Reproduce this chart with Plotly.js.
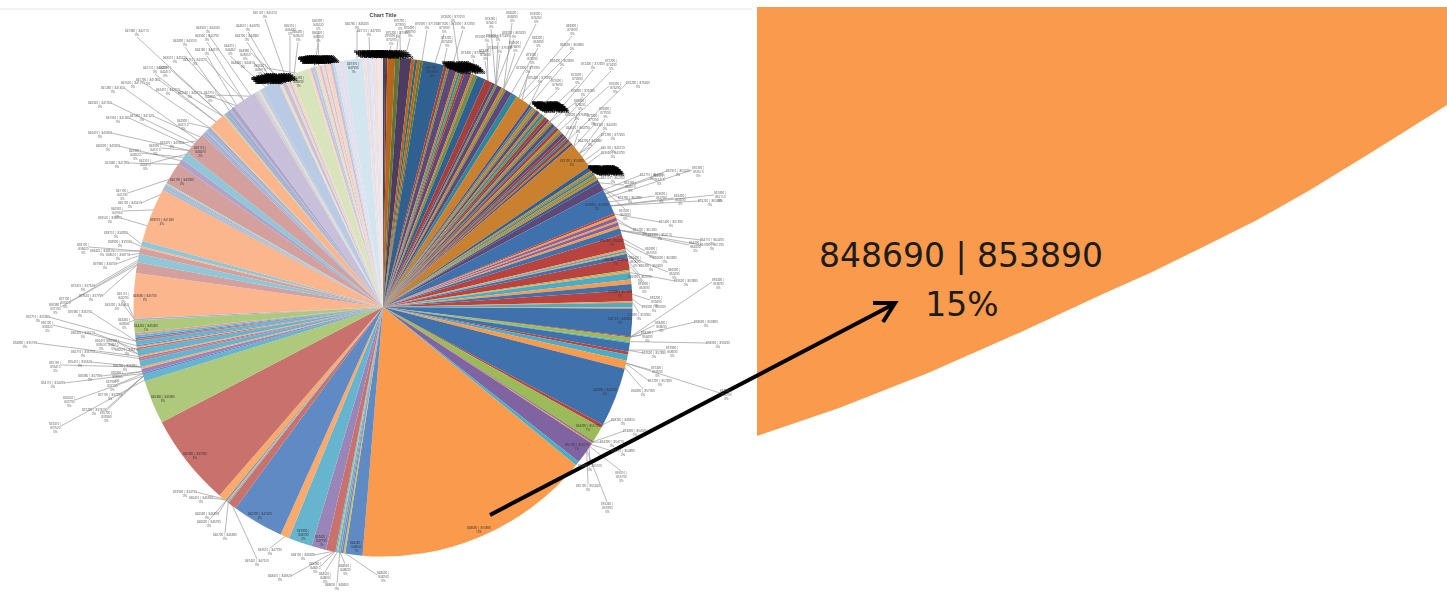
<!DOCTYPE html>
<html>
<head>
<meta charset="utf-8">
<script src="https://cdn.plot.ly/plotly-3.0.1.min.js"></script>
<style>html,body{margin:0;padding:0;background:#fff}#chart{width:1447px;height:592px}</style>
</head>
<body>
<div id="chart"></div>
<script>
// Slice sizes, clockwise from twelve o'clock (parts per 3600 of the pie).
const sliceWeights = [
  5,5,18,11,26,8,6,7,6,50,
  7,5,18,5,5,5,5,15,5,10,20,18,7,5,12,6,5,15,14,34,
  6,5,6,5,8,5,6,5,7,6,5,5,8,5,7,5,6,8,6,5,7,4,6,
  63,10,4,4,5,4,5,4,7,20,59,
  5,5,8,4,8,6,15,34,4,5,3,10,27,4,3,16,10,14,26,3,11,3,64,2,10,3,20,7,14,19,138,8,36,2,2,2,52,10,553,
  40,4,4,4,5,3,3,22,34,55,21,120,20,3,3,3,18,215,102,
  16,4,9,5,14,5,4,3,15,4,3,3,10,4,4,5,5,29,4,
  105,25,20,14,4,12,127,4,3,3,3,3,2,51,14,19,54,5,5,4,5,5,3,39,3,8,7,4,9,
  56,4,6,5,6,40,4,3,10,5,5,6,42,5,6,6,4,5,5,6,4,10,7,5,10,
  10,45,7,8,6,7,5,6,7
];
const sliceTones = [
  'b1','r1','o1','g1','p1','o1','t1','o1','g1','b2',
  'r2','g2','p2','o2','t2','g2','r2','p2','o2','g2','b2','r2','p2','g2','p2','o2','g2','p2','t2','o2',
  'p2','t2','o2','g2','p2','o2','t2','g2','r2','p2','o2','g2','p2','t2','r2','o2','g2','p2','r2','t2','r2','g2','p2',
  'o2','b2','o2','g2','t2','o2','g2','o2','b2','p2','b3',
  'r3','o3','p3','o3','p3','o3','b3','r3','o3','t3','o3','b3','r3','g3','o3','t3','o3','b3','r3','o3','t3','o3','b3','r3','g3','t3','b3','r3','t3','o3','b3','r3','g3','b3','r3','o3','p3','t3','o3',
  'b4','y4','b4','p4','t4','g4','t4','r4','p4','t4','o4','b4','r4','t4','o4','b4','o4','r4','g4',
  't4','b4','p4','o4','t4','p4','r4','o4','t4','r4','o4','b4','t4','r4','b4','t4','r5','g4','b5',
  'o5','r5','t5','r5','o5','t5','o5','b5','t5','p5','b5','t5','g5','r5','p5','t5','r5','b5','p5','t5','b5','p5','g5','o5','g5','b5','p5','t5','p5',
  'p6','r6','t6','o6','b6','b6','o6','g6','p6','o6','b6','o6','g6','o6','p6','b6','g6','o6','p6','o6','b6','o6','p6','t6','p7',
  'p7','t7','r7','p7','b7','r7','p7','o7','r7'
];
// Office theme hues at seven lightness steps.
const tonePalette = {
  b: ['#2e4a74','#30608f','#3f72ad','#5f8ac4','#9db4d8','#b9cbe4','#dfe8f2'],
  r: ['#7a2f2c','#a53f3b','#b8433f','#c9716c','#d3a09e','#e7c0be','#f1dfde'],
  g: ['#5f7530','#788c4a','#9bbb59','#aec87c','#c4d79b','#d8e4bc','#ebf1de'],
  p: ['#4d3b62','#5e4878','#8064a2','#9a85b8','#b2a2c7','#c8bfdb','#e4dfec'],
  t: ['#276a7c','#31859c','#4bacc6','#66b4cd','#8fc6d8','#b7dee8','#d3e5ee'],
  o: ['#b5651d','#c9802f','#f99a4c','#f9aa6c','#fbb68e','#fcd5c0','#f9e3d6'],
  y: ['#c6c04a','#c6c04a','#c6c04a','#c9c45a','#d0cc7a','#e0dda0','#eeecc8']
};

// Codes printed inside the larger slices, with their share.
const innerTexts = [
  '848690 | 853890<br>15%','854390 | 855190<br>1%','855190 | 855710<br>1%','846890 | 848190<br>4%','846120 | 846890<br>2%',
  '847900 |<br>848190<br>2%','847420 |<br>847790<br>1%','848280 |<br>848690<br>1%','846790 | 847420<br>4%','845980 | 847090<br>6%',
  '845380 | 845980<br>3%','844250 | 845080<br>1%','843680 | 845190<br>3%','839510 | 841280<br>4%','842190 | 843090<br>2%',
  '843110 |<br>843470<br>2%','845250 |<br>846090<br>1%','847310 |<br>847990<br>1%','851190 |<br>851890<br>2%',
  '853190 | 853890<br>2%','853890 | 854590<br>2%','855790 | 856290<br>1%','856290 | 856790<br>1%','856890 | 857290<br>1%'
];
const innerX = [479,588,577,605,620,303,321,356,260,195,163,146,145,162,182,200,298,353,432,572,597,612,616,620];
const innerY = [530,428,447,392,321,535,541,547,516,456,399,328,298,222,182,152,82,68,72,163,207,243,262,294];

// Codes printed outside the pie, each tied to the rim by a leader.
const outerCodes = [
  '845120 | 845310','843920 | 844180','844610 | 844790','844790 | 844980','843560 | 843790','842890 | 843010','845310 |<br>845490','845490 |<br>845620','846090 |<br>846220','846220 |<br>846350',
  '846780 | 846920','847110 | 847290','841980 | 842110','844180 | 844310','843010 | 843210','842110 | 842290','841620 | 841790','842290 |<br>842410','843210 | 843370','844310 |<br>844460',
  '844980 |<br>845050','845620 |<br>845710','846350 | 846480','844460 | 844610','841280 | 841450','841790 | 841980','842410 | 842550','842550 | 842710','842710 |<br>842890','840920 | 841050',
  '841050 | 841280','841450 | 841620','842890 |<br>843110','840410 | 840690','840690 | 840920','843470 | 843560','843090 |<br>843110','842990 |<br>843020','841880 | 841990','842310 |<br>842410',
  '841190 |<br>841290','840190 | 840410','840920 |<br>841060','836520 | 836910',
  '838710 | 838990','838990 | 839180','838190 |<br>838420','838420 | 838610','838610 | 838710','837980 | 838190','837410 | 837620','837620 | 837790','837190 |<br>837410','836980 |<br>837190',
  '843110 |<br>843290','843290 | 843460','843460 |<br>843680','835980 | 836190','835710 | 835980','836190 |<br>836320','836320 | 836410','836410 |<br>836530','834890 | 835190','836530 |<br>836610',
  '836610 | 836710','836710 | 836790','835190 |<br>835410','835410 | 835620','836790 | 836890','836890 |<br>836980','836980 | 837090','834110 | 834290','837090 |<br>837190','837190 | 837290',
  '835620 |<br>835790','837290 | 837410','835790 |<br>835980','837410 |<br>837520','833990 | 834190',
  '846410 | 846580','846580 | 846690','846690 | 846790','846790 | 846890','847420 | 847610','847610 | 847790',
  '848190 | 848280','848280 |<br>848410','848410 | 848520','848520 |<br>848600','848600 | 848650','848650 |<br>848690','848690 |<br>848740','848740 | 848810',
  '853890 | 854020','854390 | 854710','854710 | 854890','854890 | 855010','855010 |<br>855190','855190 | 855240','855240 |<br>855390','855390 |<br>855510',
  '862910 | 863220','862710 | 862910','862510 |<br>862710','862390 |<br>862510','862110 | 862390','861890 |<br>862110','863220 | 863490','863490 |<br>863690','863690 |<br>863780','863780 | 863990',
  '861690 |<br>861890','861490 | 861690','861290 | 861490','863990 | 864110','864110 | 864290','864290 |<br>864390','861090 | 861290','860890 |<br>861090','860690 | 860890','860490 |<br>860690',
  '860290 | 860490','860090 |<br>860290','860090 | 860190','859890 |<br>860090','859690 | 859890','859490 |<br>859690','859290 |<br>859490','859090 | 859290','858890 | 859090','858690 | 858890',
  '858490 |<br>858690','858290 |<br>858490','858090 | 858290','857890 |<br>858090','857690 | 857890','857490 |<br>857690','857290 | 857490','857090 |<br>857290','856890 | 857090','856690 |<br>856890',
  '874090 |<br>874260','874260 |<br>874410','873690 | 873910','872090 | 872390','871690 |<br>871890','870990 | 871290','870790 |<br>870990','870490 |<br>870790','870290 | 870490','870090 |<br>870290',
  '869890 |<br>870090','869690 | 869890','869490 | 869690','869290 |<br>869490','869090 | 869290','875090 | 875290','875290 | 875490','874890 | 875090','874690 |<br>874890','874490 |<br>874690',
  '873490 | 873690','873290 |<br>873490','873090 |<br>873290','872890 | 873090','875490 | 875690','875690 |<br>875890','872690 |<br>872890','872490 | 872690','872290 |<br>872490','875890 | 876090',
  '876090 |<br>876290','876290 | 876490','876490 |<br>876690','876690 | 876890','876890 |<br>877090','877090 |<br>877290','877290 | 877490'
];
const outerX = [
  265,208,248,247,207,185,290,298,318,318,357,369,137,207,175,155,133,165,195,230,245,260,280,243,113,148,168,190,210,100,118,142,183,100,108,172,155,135,117,145,122,130,117,110,
  116,120,83,102,118,105,83,91,65,55,123,117,124,80,38,47,83,101,25,113,127,83,55,80,125,117,90,53,112,110,69,94,106,55,
  185,201,207,209,225,257,
  270,303,315,280,325,337,345,383,
  623,635,612,623,590,621,588,607,
  698,678,652,659,630,613,720,710,680,661,630,625,671,645,660,712,695,712,651,665,635,651,674,640,644,686,718,656,654,639,706,661,647,718,672,654,657,660,726,643,
  512,536,491,453,463,444,427,400,410,398,391,572,572,562,538,514,487,498,500,515,485,473,447,532,528,540,557,577,593,611,583,615,638,580,577,605,593,613,613,605,578,590,613
];
const outerY = [
  15,30,28,38,38,43,30,36,25,37,26,33,33,52,60,70,85,72,62,50,55,70,82,65,90,82,92,95,97,105,120,118,125,135,148,145,150,155,165,165,195,205,213,220,
  235,244,249,253,257,266,288,298,303,309,298,307,324,314,319,327,335,345,345,345,352,354,367,364,368,377,378,385,386,397,402,412,417,428,
  494,500,516,524,537,563,
  552,557,568,578,578,587,570,577,
  422,433,444,453,468,477,488,508,
  172,173,177,180,187,180,197,203,200,198,200,215,224,232,237,242,247,247,253,260,262,268,274,279,288,283,284,302,309,317,324,327,337,345,352,355,372,383,395,393,
  17,18,23,19,26,28,26,25,32,35,40,30,47,63,42,35,39,38,50,47,55,55,42,59,70,80,85,79,66,65,93,88,85,105,117,113,120,137,150,127,130,143,155
];
const leaderAngles = [
  337,328,335,334,326,322,338,339,345,344,354,357,320,324,323,318,316,320,326,332,336,340,345,334,312,318,320,324,328,311,310,313,316,309,306,312,309,307,305,308,301,297,293,289,
  284.5,284,283,283,282.5,282,281,280,280.5,280,267,267,267,262,262,261,260,259,258.5,259,258,258,256,256,256,255,255,254.5,254.5,254,254,254,254,253,
  219.3,219,219,219,218.5,217.5,
  203,191,191,191,190.5,190,190,189,
  118.5,123,123,123.5,124,124,125,125,
  64,63,62,63,60,59,66,66,66,65,61,61,68,69,70,72,72,72,74,75,76,77,78,79,80,82,97,87,88,88.5,97,97,97,98,100,100,103,103,103,104,
  29,29,27,18,16,12,9,4,5,3,1,33,34,36,31,27,25,27,27,29,25,22,14,33,34,36,38,40,42,44,42,45,48,47,48,52,50,53,54,52,50,52,55
];

// Runs of codes that overprint one another on the rim.
const clusterCodes = [
  '844980 | 845010','845010 | 845050','845050 | 845070','845070 | 845090','845090 | 845120',
  '845120 | 845140','845140 | 845160','845160 | 845180','845180 | 845200','845200 | 845230',
  '845230 | 845250','845250 | 845270','845270 | 845290','845290 | 845300'
];
const clusterStartX = [265,312,368,456,546,602];
const clusterStartY = [81,61,54,65,105,169];
const clusterEndX = [282,324,398,470,554,609];
const clusterEndY = [77,59,55,70,109,172];

// Outline of the enlarged rim section on the right of the page.
const panelX = [757,1447,1447,1417,1372,1310,1257,1203,1150,1105,1021,928,839,757];
const panelY = [7,7,105,124,152,190,220,247,273,293,332,373,408,436];
const panelCodes = ['848690 | 853890','15%'];
const panelCodeX = [961,962];
const panelCodeY = [259,308];

const CX = 383, CY = 307, R = 249.5, W = 1447, H = 592;

const leaderXs = [], leaderYs = [], annotations = [];
const smallLabel = (text, x, y, size, color) => ({
  text, x, y, xref: 'x', yref: 'y', showarrow: false, xanchor: 'center', yanchor: 'middle',
  align: 'center', captureevents: false,
  font: {family: 'Open Sans, Liberation Sans, sans-serif', size, color}
});

outerX.forEach((lx, i) => {
  const code = outerCodes[i % outerCodes.length];
  const ly = outerY[i];
  const th = leaderAngles[i] * Math.PI / 180;
  const ax = CX + (R - 1) * Math.sin(th), ay = CY - (R - 1) * Math.cos(th);
  const wrapped = code.includes('<br>');
  const halfW = wrapped ? 6 : 11, halfH = wrapped ? 6 : 4;
  const dx = ax - lx, dy = ay - ly;
  let sx = lx, sy = ly;
  if (Math.abs(dx) > Math.abs(dy) * 1.2) { sx = lx + Math.sign(dx) * halfW; sy = ly - 2; }
  else { sy = ly + Math.sign(dy) * halfH; }
  leaderXs.push(sx, ax, null);
  leaderYs.push(sy, ay, null);
  annotations.push(smallLabel(code + '<br>0%', lx, ly, 3, '#555'));
});

clusterStartX.forEach((sx, c) => {
  const n = clusterCodes.length;
  clusterCodes.forEach((code, k) => {
    const f = k / (n - 1);
    const x = sx + (clusterEndX[c] - sx) * f;
    const y = clusterStartY[c] + (clusterEndY[c] - clusterStartY[c]) * f;
    [-2, 0, 2].forEach(dy => {
      annotations.push(smallLabel('<b>' + code + '</b>', x + dy, y + dy + (k % 2 ? 0.5 : -0.5), 3.2, '#000'));
    });
  });
});

innerTexts.forEach((t, i) => annotations.push(smallLabel(t, innerX[i], innerY[i], 3, '#333')));

const traces = [
  {type: 'scatter', mode: 'lines', x: leaderXs, y: leaderYs, connectgaps: false,
   line: {color: '#9a9a9a', width: 0.7}, hoverinfo: 'skip', showlegend: false},
  {type: 'scatter', mode: 'lines', x: panelX, y: panelY, fill: 'toself', fillcolor: '#f99a4c',
   line: {color: '#f99a4c', width: 0}, hoverinfo: 'skip', showlegend: false},
  {type: 'scatter', mode: 'text', x: panelCodeX, y: panelCodeY, text: panelCodes, textposition: 'middle center',
   textfont: {family: 'DejaVu Sans', size: 33, color: '#1c1c1c'}, hoverinfo: 'skip', showlegend: false},
  {type: 'pie', values: sliceWeights, sort: false, direction: 'clockwise', rotation: 0,
   marker: {colors: sliceTones.map(t => tonePalette[t[0]][+t[1] - 1]), line: {width: 0}},
   textinfo: 'none', hoverinfo: 'percent', showlegend: false,
   domain: {x: [(CX - R) / W, (CX + R) / W], y: [1 - (CY + R) / H, 1 - (CY - R) / H]}}
];

const layout = {
  width: W, height: H, margin: {l: 0, r: 0, t: 0, b: 0},
  paper_bgcolor: '#fff', plot_bgcolor: '#fff', showlegend: false,
  title: {text: '<b>Chart Title</b>', x: CX / W, y: 1 - 15 / H, xanchor: 'center', yanchor: 'middle',
          font: {family: 'Liberation Sans, sans-serif', size: 5.5, color: '#444'}},
  xaxis: {range: [0, W], visible: false, fixedrange: true},
  yaxis: {range: [H, 0], visible: false, fixedrange: true},
  annotations,
  shapes: [
    {type: 'line', xref: 'x', yref: 'y', x0: 0, y0: 9, x1: 752, y1: 9, line: {color: '#e4e4e4', width: 1}, layer: 'below'},
    {type: 'path', xref: 'x', yref: 'y', path: 'M490,515 L894,304 M873,303 L895,303 L883,322',
     line: {color: '#000', width: 4}, layer: 'above'}
  ]
};

Plotly.newPlot('chart', traces, layout, {staticPlot: true, displayModeBar: false}).then(gd => {
  // The pie half of the page is a soft screen capture; the enlarged panel stays crisp.
  const soften = (el, px) => { if (el) el.style.filter = 'blur(' + px + 'px)'; };
  soften(gd.querySelector('.pielayer'), 0.75);
  soften(gd.querySelector('.infolayer'), 0.35);
  soften(gd.querySelector('.scatterlayer .trace'), 0.35);
});
</script>
</body>
</html>
